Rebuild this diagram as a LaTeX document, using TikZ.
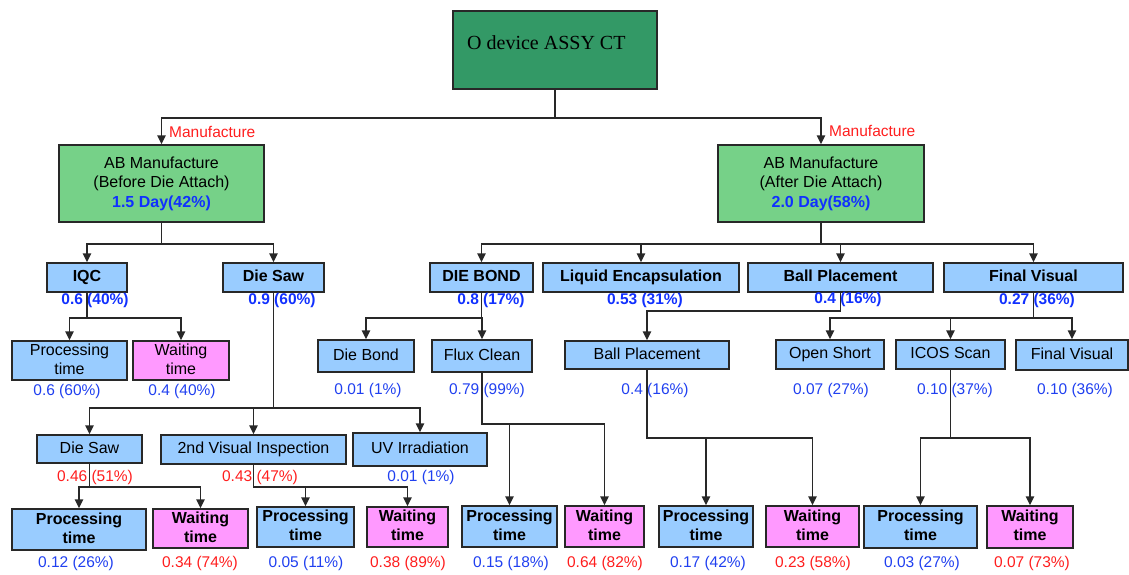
\documentclass[tikz,border=0pt]{standalone}
\usepackage{fontspec}
\setmainfont{Liberation Sans}
\newfontfamily\titleserif{Liberation Serif}
\usetikzlibrary{arrows.meta}

\definecolor{topgreen}{RGB}{51,153,102}
\definecolor{midgreen}{RGB}{118,209,136}
\definecolor{stepblue}{RGB}{153,204,255}
\definecolor{waitpink}{RGB}{255,153,255}
\definecolor{valblue}{RGB}{32,64,240}
\definecolor{boldblue}{RGB}{16,48,255}
\definecolor{valred}{RGB}{255,30,30}
\definecolor{edgegray}{RGB}{40,40,40}

\tikzset{
  basebox/.style={draw=edgegray, line width=1.5pt, inner sep=0pt, align=center,
    font=\fontsize{16}{19}\selectfont, execute at begin node={\vphantom{Jg}}},
  topbox/.style={basebox, fill=topgreen},
  phasebox/.style={basebox, fill=midgreen, font=\fontsize{16}{19.5}\selectfont},
  headbox/.style={basebox, fill=stepblue, font=\fontsize{16}{19}\selectfont\bfseries},
  stepbox/.style={basebox, fill=stepblue},
  waitbox/.style={basebox, fill=waitpink},
  procbold/.style={basebox, fill=stepblue, font=\fontsize{16}{19}\selectfont\bfseries},
  waitbold/.style={basebox, fill=waitpink, font=\fontsize{16}{19}\selectfont\bfseries},
  valb/.style={inner sep=0pt, text=valblue, font=\fontsize{15.5}{18}\selectfont},
  valr/.style={inner sep=0pt, text=valred, font=\fontsize{15.5}{18}\selectfont},
  valbb/.style={inner sep=0pt, text=boldblue, font=\fontsize{15.5}{18}\selectfont\bfseries},
  redtag/.style={inner sep=0pt, anchor=west, text=valred, font=\fontsize{15.5}{18}\selectfont},
  arr/.style={draw=edgegray, line width=1.5pt, -{Triangle[width=8.5pt,length=9pt]}},
}

% box from its corners: name, x1, y1, x2, y2, style, text
\newcommand\cornerbox[7]{%
  \node[#6, minimum width={#4-#2}, minimum height={#5-#3}] (#1)
    at ({(#2+#4)/2},{(#3+#5)/2}) {#7};}

\begin{document}
\begin{tikzpicture}[x=1pt, y=-1pt]
\useasboundingbox (0,0) rectangle (1129,574);

% top level
\cornerbox{top}{453}{11}{657}{89}{topbox}{}
\node[anchor=base west, inner sep=0pt, font=\titleserif\fontsize{20}{24}\selectfont]
  (toptext) at (467,49) {O device ASSY CT};

% phases
\cornerbox{gl}{59}{145}{264}{222}{phasebox}
  {AB Manufacture\\(Before Die Attach)\\{\color{boldblue}\bfseries 1.5 Day(42\%)}}
\cornerbox{gr}{718}{145}{924}{222}{phasebox}
  {AB Manufacture\\(After Die Attach)\\{\color{boldblue}\bfseries 2.0 Day(58\%)}}
\node[redtag] (tagl) at (169,132) {Manufacture};
\node[redtag] (tagr) at (829,131) {Manufacture};

% process groups
\cornerbox{iqc}{47}{263}{127}{292}{headbox}{IQC}
\cornerbox{dsaw}{223}{263}{324}{292}{headbox}{Die Saw}
\cornerbox{dbond}{430}{263}{533}{292}{headbox}{DIE BOND}
\cornerbox{liq}{543}{263}{739}{292}{headbox}{Liquid Encapsulation}
\cornerbox{ballT}{748}{263}{933}{292}{headbox}{Ball Placement}
\cornerbox{fvT}{944}{263}{1123}{292}{headbox}{Final Visual}

\node[valbb] (v-iqc) at (95,300) {0.6 (40\%)};
\node[valbb] (v-dsaw) at (282,300) {0.9 (60\%)};
\node[valbb] (v-dbond) at (491,300) {0.8 (17\%)};
\node[valbb] (v-liq) at (645,300) {0.53 (31\%)};
\node[valbb] (v-ballT) at (848,299) {0.4 (16\%)};
\node[valbb] (v-fvT) at (1037,300) {0.27 (36\%)};

% steps
\cornerbox{iqcP}{12}{341}{127}{380}{stepbox}{Processing\\time}
\cornerbox{iqcW}{133}{341}{229}{380}{waitbox}{Waiting\\time}
\cornerbox{dbsub}{318}{340}{414}{372}{stepbox}{Die Bond}
\cornerbox{flux}{432}{340}{532}{372}{stepbox}{Flux Clean}
\cornerbox{bpsub}{565}{341}{729}{369}{stepbox}{Ball Placement}
\cornerbox{osh}{776}{340}{884}{369}{stepbox}{Open Short}
\cornerbox{icos}{896}{340}{1005}{369}{stepbox}{ICOS Scan}
\cornerbox{fvsub}{1016}{340}{1128}{370}{stepbox}{Final Visual}

\node[valb] (v-iqcP) at (67,391) {0.6 (60\%)};
\node[valb] (v-iqcW) at (182,391) {0.4 (40\%)};
\node[valb] (v-dbsub) at (368,390) {0.01 (1\%)};
\node[valb] (v-flux) at (487,390) {0.79 (99\%)};
\node[valb] (v-bpsub) at (655,390) {0.4 (16\%)};
\node[valb] (v-osh) at (831,390) {0.07 (27\%)};
\node[valb] (v-icos) at (955,390) {0.10 (37\%)};
\node[valb] (v-fvsub) at (1075,390) {0.10 (36\%)};

% die saw sub-steps
\cornerbox{dsub}{37}{435}{142}{463}{stepbox}{Die Saw}
\cornerbox{vis2}{161}{435}{346}{464}{stepbox}{2nd Visual Inspection}
\cornerbox{uv}{353}{433}{487}{466}{stepbox}{UV Irradiation}
\node[valr] (v-dsub) at (95,477) {0.46 (51\%)};
\node[valr] (v-vis2) at (260,477) {0.43 (47\%)};
\node[valb] (v-uv) at (421,477) {0.01 (1\%)};

% processing / waiting split
\cornerbox{dsP}{12}{509}{146}{550}{procbold}{Processing\\time}
\cornerbox{dsW}{153}{509}{248}{548}{waitbold}{Waiting\\time}
\cornerbox{v2P}{257}{507}{354}{547}{procbold}{Processing\\time}
\cornerbox{v2W}{367}{507}{448}{547}{waitbold}{Waiting\\time}
\cornerbox{flP}{462}{506}{557}{547}{procbold}{Processing\\time}
\cornerbox{flW}{565}{506}{644}{547}{waitbold}{Waiting\\time}
\cornerbox{bpP}{659}{506}{753}{547}{procbold}{Processing\\time}
\cornerbox{bpW}{766}{506}{859}{547}{waitbold}{Waiting\\time}
\cornerbox{icP}{864}{506}{977}{548}{procbold}{Processing\\time}
\cornerbox{icW}{987}{506}{1073}{548}{waitbold}{Waiting\\time}

\node[valb] (v-dsP) at (76,563) {0.12 (26\%)};
\node[valr] (v-dsW) at (200,563) {0.34 (74\%)};
\node[valb] (v-v2P) at (306,563) {0.05 (11\%)};
\node[valr] (v-v2W) at (408,563) {0.38 (89\%)};
\node[valb] (v-flP) at (511,563) {0.15 (18\%)};
\node[valr] (v-flW) at (605,563) {0.64 (82\%)};
\node[valb] (v-bpP) at (708,563) {0.17 (42\%)};
\node[valr] (v-bpW) at (813,563) {0.23 (58\%)};
\node[valb] (v-icP) at (922,563) {0.03 (27\%)};
\node[valr] (v-icW) at (1032,563) {0.07 (73\%)};

% connectors
\foreach \c in {gl,gr} \draw[arr] (top.south) -- ++(0,28) -| (\c.north);
\foreach \c in {iqc,dsaw} \draw[arr] (gl.south) -- ++(0,21) -| (\c.north);
\foreach \c in {dbond,liq,ballT,fvT} \draw[arr] (gr.south) -- ++(0,21) -| (\c.north);
\foreach \c in {iqcP,iqcW} \draw[arr] (iqc.south) -- ++(0,25) -| (\c.north);
\foreach \c in {dsub,vis2,uv} \draw[arr] (dsaw.south) -- ++(0,115) -| (\c.north);
\foreach \c in {dsP,dsW} \draw[arr] (dsub.south) -- ++(0,23) -| (\c.north);
\foreach \c in {v2P,v2W} \draw[arr] (vis2.south) -- ++(0,22) -| (\c.north);
\foreach \c in {dbsub,flux} \draw[arr] (dbond.south) -- ++(0,25) -| (\c.north);
\foreach \c in {flP,flW} \draw[arr] (flux.south) -- ++(0,51) -| (\c.north);
\draw[arr] (ballT.south) -- ++(0,18) -| (bpsub.north);
\foreach \c in {bpP,bpW} \draw[arr] (bpsub.south) -- ++(0,68) -| (\c.north);
\foreach \c in {osh,icos,fvsub} \draw[arr] (fvT.south) -- ++(0,25) -| (\c.north);
\foreach \c in {icP,icW} \draw[arr] (icos.south) -- ++(0,68) -| (\c.north);
\end{tikzpicture}
\end{document}
